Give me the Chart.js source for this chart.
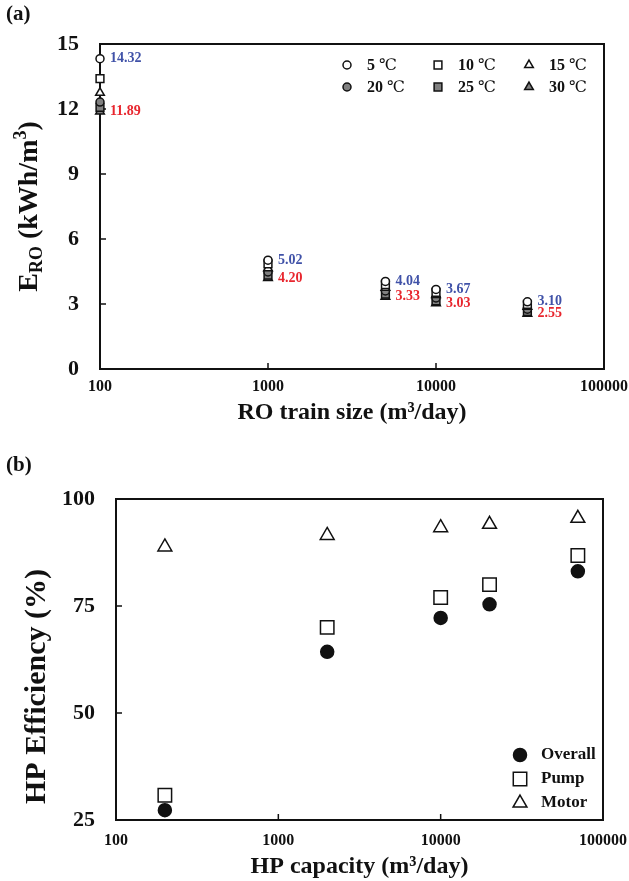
<!DOCTYPE html>
<html>
<head>
<meta charset="utf-8">
<script src="https://cdn.jsdelivr.net/npm/chart.js@4.4.0/dist/chart.umd.min.js"></script>
<style>
  html, body { margin: 0; padding: 0; background: #fff; }
  #wrap { position: relative; width: 629px; height: 881px; }
  canvas { position: absolute; left: 0; }
</style>
</head>
<body>
<div id="wrap">
  <canvas id="chartA" width="629" height="445" style="top:0"></canvas>
  <canvas id="chartB" width="629" height="436" style="top:445px"></canvas>
</div>
<script>
// (a) удельная энергия RO по размеру линии
const roSize = [100, 1000, 5000, 10000, 35000];
const e5  = [14.32, 5.02, 4.04, 3.67, 3.10];
const e10 = [13.40, 4.85, 3.90, 3.54, 2.98];
const e15 = [12.75, 4.65, 3.75, 3.41, 2.87];
const e20 = [12.32, 4.48, 3.60, 3.28, 2.76];
const e25 = [12.08, 4.33, 3.46, 3.15, 2.65];
const e30 = [11.89, 4.20, 3.33, 3.03, 2.55];
const tempValues = ['5', '10', '15', '20', '25', '30'];
const sizeTicks = [100, 1000, 10000, 100000];
const eTicks = [0, 3, 6, 9, 12, 15];

// (b) КПД насоса высокого давления
const hpCap = [200, 2000, 10000, 20000, 70000];
const effOverall = [27.3, 64.3, 72.2, 75.4, 83.1];
const effPump = [30.8, 70.0, 77.0, 80.0, 86.8];
const effMotor = [88.8, 91.5, 93.3, 94.1, 95.5];
const hpLabels = ['Overall', 'Pump', 'Motor'];
const effTicks = [25, 50, 75, 100];

const serif = '"Liberation Serif", "Times New Roman", serif';
const ink = '#111';

function pts(xs, ys) {
    return xs.map((x, i) => ({ x: x, y: ys[i] }));
}

function markerDs(label, xs, ys, style, fill, r) {
    return {
        label: label,
        data: pts(xs, ys),
        pointStyle: style,
        pointRadius: r,
        pointBackgroundColor: fill,
        pointBorderColor: ink,
        pointBorderWidth: 1.5,
        showLine: false,
        clip: false
    };
}

// рамка и внутренние засечки
const framePlugin = {
    id: 'frame',
    beforeDatasetsDraw(chart) {
        const { ctx, chartArea: a, scales } = chart;
        ctx.save();
        ctx.strokeStyle = ink;
        ctx.lineWidth = 2;
        ctx.strokeRect(a.left, a.top, a.right - a.left, a.bottom - a.top);
        ctx.lineWidth = 1.5;
        ctx.beginPath();
        scales.x.ticks.forEach(t => {
            if (t.value > scales.x.min && t.value < scales.x.max) {
                const px = scales.x.getPixelForValue(t.value);
                ctx.moveTo(px, a.bottom);
                ctx.lineTo(px, a.bottom - 6);
            }
        });
        scales.y.ticks.forEach(t => {
            if (t.value > scales.y.min && t.value < scales.y.max) {
                const py = scales.y.getPixelForValue(t.value);
                ctx.moveTo(a.left, py);
                ctx.lineTo(a.left + 6, py);
            }
        });
        ctx.stroke();
        ctx.restore();
    }
};

function drawMarker(ctx, chart, di, x, y) {
    const o = chart.getDatasetMeta(di).data[0].options;
    ctx.fillStyle = o.backgroundColor;
    ctx.strokeStyle = o.borderColor;
    ctx.lineWidth = o.borderWidth;
    Chart.helpers.drawPoint(ctx, { pointStyle: o.pointStyle, radius: o.radius, rotation: 0, borderWidth: o.borderWidth }, x, y);
}

function rotatedText(ctx, parts, cx, cy) {
    ctx.save();
    ctx.translate(cx, cy);
    ctx.rotate(-Math.PI / 2);
    ctx.textAlign = 'left';
    ctx.textBaseline = 'middle';
    let total = 0;
    parts.forEach(p => { ctx.font = p[1]; total += ctx.measureText(p[0]).width; });
    let x = -total / 2;
    parts.forEach(p => {
        ctx.font = p[1];
        ctx.fillText(p[0], x, p[2]);
        x += ctx.measureText(p[0]).width;
    });
    ctx.restore();
}

const xTitleFont = 'bold 24px ' + serif;

const decorA = {
    id: 'decorA',
    afterDatasetsDraw(chart) {
        const { ctx, chartArea: a } = chart;
        ctx.save();
        // подписи значений
        ctx.font = 'bold 14px ' + serif;
        ctx.textAlign = 'left';
        ctx.textBaseline = 'middle';
        [[0, '#4052a8'], [5, '#e8262e']].forEach(([di, color]) => {
            ctx.fillStyle = color;
            chart.getDatasetMeta(di).data.forEach((pt, i) => {
                ctx.fillText(chart.data.datasets[di].data[i].y.toFixed(2), pt.x + 10, pt.y);
            });
        });
        // легенда 3 x 2
        tempValues.forEach((t, i) => {
            const col = i % 3, row = Math.floor(i / 3);
            const mx = a.right - 257 + col * 91;
            const my = a.top + 21 + row * 22;
            drawMarker(ctx, chart, i, mx, my);
            ctx.fillStyle = ink;
            ctx.font = 'bold 16px ' + serif;
            const s = t + ' ';
            ctx.fillText(s, mx + 20, my + 1);
            const w = ctx.measureText(s).width;
            ctx.font = '16px "DejaVu Serif", serif';
            ctx.fillText('℃', mx + 20 + w, my + 1);
        });
        // заголовки
        ctx.fillStyle = ink;
        ctx.font = 'bold 21px ' + serif;
        ctx.fillText('(a)', 6, 15);
        ctx.textAlign = 'center';
        ctx.font = xTitleFont;
        ctx.fillText('RO train size (m³/day)', (a.left + a.right) / 2, a.bottom + 44);
        const big = 'bold 28px ' + serif, small = 'bold 18px ' + serif;
        rotatedText(ctx, [['E', big, 0], ['RO', small, 7], [' (kWh/m', big, 0], ['3', small, -9], [')', big, 0]], 30, (a.top + a.bottom) / 2);
        ctx.restore();
    }
};

const decorB = {
    id: 'decorB',
    afterDatasetsDraw(chart) {
        const { ctx, chartArea: a } = chart;
        ctx.save();
        ctx.textBaseline = 'middle';
        ctx.textAlign = 'left';
        hpLabels.forEach((lab, i) => {
            const mx = a.right - 83;
            const my = a.bottom - 65 + i * 24;
            drawMarker(ctx, chart, i, mx, my);
            ctx.fillStyle = ink;
            ctx.font = 'bold 17px ' + serif;
            ctx.fillText(lab, mx + 21, my);
        });
        ctx.fillStyle = ink;
        ctx.font = 'bold 21px ' + serif;
        ctx.fillText('(b)', 6, 21);
        ctx.textAlign = 'center';
        ctx.font = xTitleFont;
        ctx.fillText('HP capacity (m³/day)', (a.left + a.right) / 2, a.bottom + 47);
        rotatedText(ctx, [['HP Efficiency (%)', 'bold 30px ' + serif, 0]], 37, (a.top + a.bottom) / 2 + 27);
        ctx.restore();
    }
};

function axes(xTicks, yTicks, yMin, yMax, yWidth, xHeight, xPad) {
    return {
        x: {
            type: 'logarithmic',
            min: xTicks[0],
            max: xTicks[xTicks.length - 1],
            afterBuildTicks: s => { s.ticks = xTicks.map(v => ({ value: v })); },
            afterFit: s => { s.height = xHeight; s.paddingLeft = 0; s.paddingRight = 0; },
            grid: { display: false, drawTicks: false },
            border: { display: false },
            ticks: {
                padding: xPad,
                color: ink,
                maxRotation: 0,
                autoSkip: false,
                font: { family: serif, weight: 'bold', size: 16 },
                callback: v => String(v)
            }
        },
        y: {
            min: yMin,
            max: yMax,
            afterBuildTicks: s => { s.ticks = yTicks.map(v => ({ value: v })); },
            afterFit: s => { s.width = yWidth; },
            grid: { display: false, drawTicks: false },
            border: { display: false },
            ticks: {
                padding: 21,
                color: ink,
                font: { family: serif, weight: 'bold', size: 22 }
            }
        }
    };
}

const common = {
    responsive: false,
    animation: false,
    events: [],
    plugins: { legend: { display: false }, tooltip: { enabled: false } }
};

new Chart(document.getElementById('chartA'), {
    type: 'scatter',
    data: {
        datasets: [
            markerDs('5', roSize, e5, 'circle', '#ffffff', 4),
            markerDs('10', roSize, e10, 'rect', '#ffffff', 5.5),
            markerDs('15', roSize, e15, 'triangle', '#ffffff', 5),
            markerDs('20', roSize, e20, 'circle', '#808080', 4),
            markerDs('25', roSize, e25, 'rect', '#808080', 5.5),
            markerDs('30', roSize, e30, 'triangle', '#808080', 5)
        ]
    },
    options: Object.assign({}, common, {
        layout: { padding: { left: 0, right: 25, top: 44, bottom: 0 } },
        scales: axes(sizeTicks, eTicks, 0, 15, 100, 76, 8)
    }),
    plugins: [framePlugin, decorA]
});

new Chart(document.getElementById('chartB'), {
    type: 'scatter',
    data: {
        datasets: [
            markerDs(hpLabels[0], hpCap, effOverall, 'circle', ink, 6.5),
            markerDs(hpLabels[1], hpCap, effPump, 'rect', '#ffffff', 9.5),
            markerDs(hpLabels[2], hpCap, effMotor, 'triangle', '#ffffff', 8)
        ]
    },
    options: Object.assign({}, common, {
        layout: { padding: { left: 0, right: 26, top: 54, bottom: 0 } },
        scales: axes(sizeTicks, effTicks, 25, 100, 116, 61, 11)
    }),
    plugins: [framePlugin, decorB]
});
</script>
</body>
</html>
